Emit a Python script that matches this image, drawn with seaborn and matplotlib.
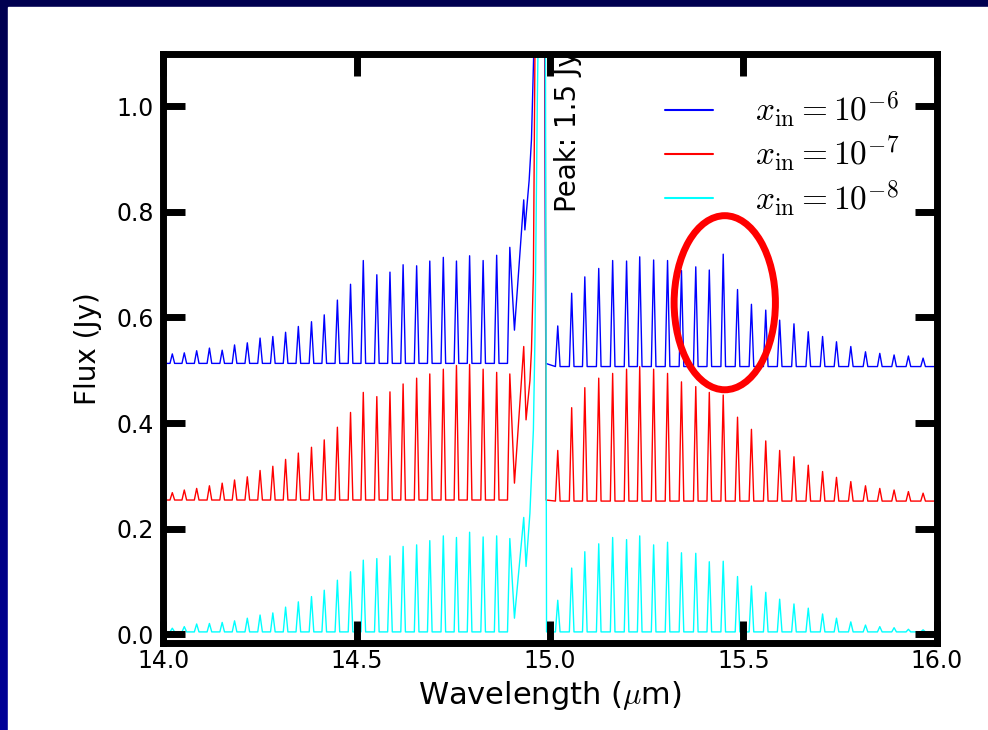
import numpy as np
import pandas as pd
import seaborn as sns
import matplotlib
matplotlib.use("Agg")
import matplotlib.pyplot as plt
from matplotlib.patches import Ellipse, Rectangle
from matplotlib.colors import LinearSegmentedColormap

# ---------------- data ----------------
wl_left = [14.023, 14.054, 14.086, 14.119, 14.152, 14.184, 14.217, 14.250, 14.283, 14.316,
           14.349, 14.383, 14.416, 14.450, 14.484, 14.517, 14.552, 14.586, 14.620, 14.655,
           14.689, 14.724, 14.758, 14.792, 14.827, 14.862, 14.896, 14.932]
wl_right = [15.020, 15.056, 15.090, 15.126, 15.162, 15.198, 15.232, 15.268, 15.304, 15.340,
            15.377, 15.412, 15.448, 15.485, 15.521, 15.558, 15.594, 15.631, 15.668, 15.705,
            15.741, 15.778, 15.816, 15.853, 15.890, 15.927, 15.965]

blue_left = [0.531, 0.533, 0.537, 0.542, 0.538, 0.548, 0.552, 0.561, 0.564, 0.572,
             0.583, 0.592, 0.605, 0.633, 0.663, 0.708, 0.681, 0.686, 0.700, 0.698,
             0.707, 0.714, 0.707, 0.717, 0.708, 0.718, 0.733, 0.823]
blue_right = [0.584, 0.646, 0.677, 0.693, 0.708, 0.707, 0.715, 0.709, 0.708, 0.689,
              0.696, 0.690, 0.720, 0.653, 0.625, 0.614, 0.595, 0.588, 0.573, 0.564,
              0.554, 0.545, 0.535, 0.532, 0.529, 0.527, 0.523]

red_left = [0.268, 0.273, 0.276, 0.281, 0.286, 0.292, 0.298, 0.310, 0.318, 0.331,
            0.343, 0.354, 0.368, 0.392, 0.420, 0.458, 0.450, 0.459, 0.474, 0.485,
            0.493, 0.502, 0.509, 0.511, 0.502, 0.496, 0.493, 0.545]
red_right = [0.348, 0.429, 0.467, 0.485, 0.494, 0.502, 0.507, 0.502, 0.494, 0.478,
             0.469, 0.458, 0.453, 0.411, 0.388, 0.366, 0.348, 0.336, 0.320, 0.308,
             0.297, 0.289, 0.281, 0.276, 0.273, 0.270, 0.267]

cyan_left = [0.011, 0.014, 0.019, 0.020, 0.022, 0.025, 0.030, 0.036, 0.040, 0.051,
             0.061, 0.071, 0.083, 0.102, 0.118, 0.140, 0.143, 0.148, 0.166, 0.169,
             0.177, 0.186, 0.183, 0.193, 0.184, 0.186, 0.181, 0.221]
cyan_right = [0.064, 0.125, 0.156, 0.171, 0.183, 0.179, 0.186, 0.169, 0.174, 0.154,
              0.153, 0.137, 0.138, 0.109, 0.091, 0.079, 0.066, 0.057, 0.049, 0.038,
              0.030, 0.023, 0.017, 0.014, 0.012, 0.009, 0.008]

# continuum level on each side and the trough just before the Q-branch
base_left = {"b": 0.513, "r": 0.254, "c": 0.004}
base_right = {"b": 0.507, "r": 0.252, "c": 0.004}
preq_trough = {"b": 0.576, "r": 0.286, "c": 0.030}

# Q-branch (central peak, 1.5 Jy)
q_wave = {"b": [14.935, 14.946, 14.952, 14.957, 14.972, 14.986, 14.989],
          "r": [14.938, 14.948, 14.952, 14.957, 14.961, 14.975, 14.987, 14.990],
          "c": [14.938, 14.948, 14.957, 14.961, 14.967, 14.976, 14.988, 14.991]}
q_flux = {"b": [0.766, 0.860, 0.937, 1.075, 1.500, 1.200, 0.513],
          "r": [0.406, 0.480, 0.538, 0.684, 1.100, 1.500, 1.200, 0.254],
          "c": [0.128, 0.229, 0.387, 0.560, 1.000, 1.500, 1.200, 0.004]}

labels = {"b": r"$x_{\rm in}=10^{-6}$", "r": r"$x_{\rm in}=10^{-7}$", "c": r"$x_{\rm in}=10^{-8}$"}
colors = {"b": "#0000ff", "r": "#ff0000", "c": "#00ffff"}
peaks_left = {"b": blue_left, "r": red_left, "c": cyan_left}
peaks_right = {"b": blue_right, "r": red_right, "c": cyan_right}

HW = 0.006  # drawn half-width of each emission line


def build(key):
    xs, ys = [14.0], [base_left[key]]
    bl = base_left[key]
    n = len(wl_left)
    for i, (w, h) in enumerate(zip(wl_left, peaks_left[key])):
        if i < n - 1:
            xs += [w - HW, w]
            ys += [bl, h]
        if i < n - 2:
            xs.append(w + HW)
            ys.append(bl)
        elif i == n - 2:
            xs.append(w + 2 * HW)
            ys.append(preq_trough[key])
        else:
            xs.append(w)
            ys.append(h)
    xs += q_wave[key]
    ys += q_flux[key]
    br = base_right[key]
    for w, h in zip(wl_right, peaks_right[key]):
        xs += [w - HW, w, w + HW]
        ys += [br, h, br]
    xs.append(16.0)
    ys.append(br)
    return xs, ys


frames = []
for k in ["b", "r", "c"]:
    x, y = build(k)
    frames.append(pd.DataFrame({"Wavelength": x, "Flux": y, "series": labels[k]}))
df = pd.concat(frames, ignore_index=True)

# ---------------- figure ----------------
sns.set_theme(style="white")
plt.rcParams["font.family"] = ["DejaVu Sans"]
plt.rcParams["mathtext.fontset"] = "cm"
plt.rcParams["text.color"] = "black"
plt.rcParams["axes.labelcolor"] = "black"
plt.rcParams["axes.axisbelow"] = False

fig = plt.figure(figsize=(9.88, 7.3), dpi=100)
# navy slide frame
bg = fig.add_axes([0, 0, 1, 1], zorder=-10)
grad = np.linspace(0, 1, 256).reshape(-1, 1)
cmap = LinearSegmentedColormap.from_list("navy", ["#000050", "#000098"])
bg.imshow(grad, aspect="auto", cmap=cmap, extent=[0, 1, 0, 1], origin="upper")
bg.add_patch(Rectangle((8 / 988, 0), 1, 1 - 7 / 730, color="white", transform=bg.transAxes))
bg.set_axis_off()

ax = fig.add_axes([0.1654, 0.1192, 0.948 - 0.1654, 0.9264 - 0.1192])
ax.set_axisbelow(False)
palette = {labels[k]: colors[k] for k in colors}
sns.lineplot(data=df, x="Wavelength", y="Flux", hue="series", palette=palette,
             estimator=None, sort=False, units="series", lw=1.0, ax=ax, legend=True)

ax.set_xlim(14.0, 16.0)
ax.set_ylim(-0.017, 1.1)
ax.set_xticks([14.0, 14.5, 15.0, 15.5, 16.0])
ax.set_yticks([0.0, 0.2, 0.4, 0.6, 0.8, 1.0])
ax.set_xticklabels(["14.0", "14.5", "15.0", "15.5", "16.0"])
ax.set_yticklabels(["0.0", "0.2", "0.4", "0.6", "0.8", "1.0"])
ax.tick_params(direction="in", length=16, width=5, top=True, right=True,
               bottom=True, left=True, labelsize=17, colors="black")
ax.tick_params(axis="x", pad=4)
ax.tick_params(axis="y", pad=7)
for s in ax.spines.values():
    s.set_linewidth(5)
    s.set_color("black")
ax.set_xlabel(r"Wavelength ($\mu$m)", fontsize=22, labelpad=5)
ax.set_ylabel("Flux (Jy)", fontsize=20, labelpad=10)

ax.text(15.046, 0.80, "Peak: 1.5 Jy", rotation=90, ha="center", va="bottom",
        fontsize=20, clip_on=True, zorder=2)

leg = ax.legend(loc="upper right", bbox_to_anchor=(0.99, 0.99), frameon=False,
                fontsize=24, handlelength=1.45, handletextpad=1.25, labelspacing=0.12)
for line in leg.get_lines():
    line.set_linewidth(1.5)

ax.add_patch(Ellipse((15.452, 0.628), 0.262, 0.330, fill=False, edgecolor="#ff0000",
                     lw=5, zorder=5, clip_on=False))

fig.savefig("out.png", dpi=100)
